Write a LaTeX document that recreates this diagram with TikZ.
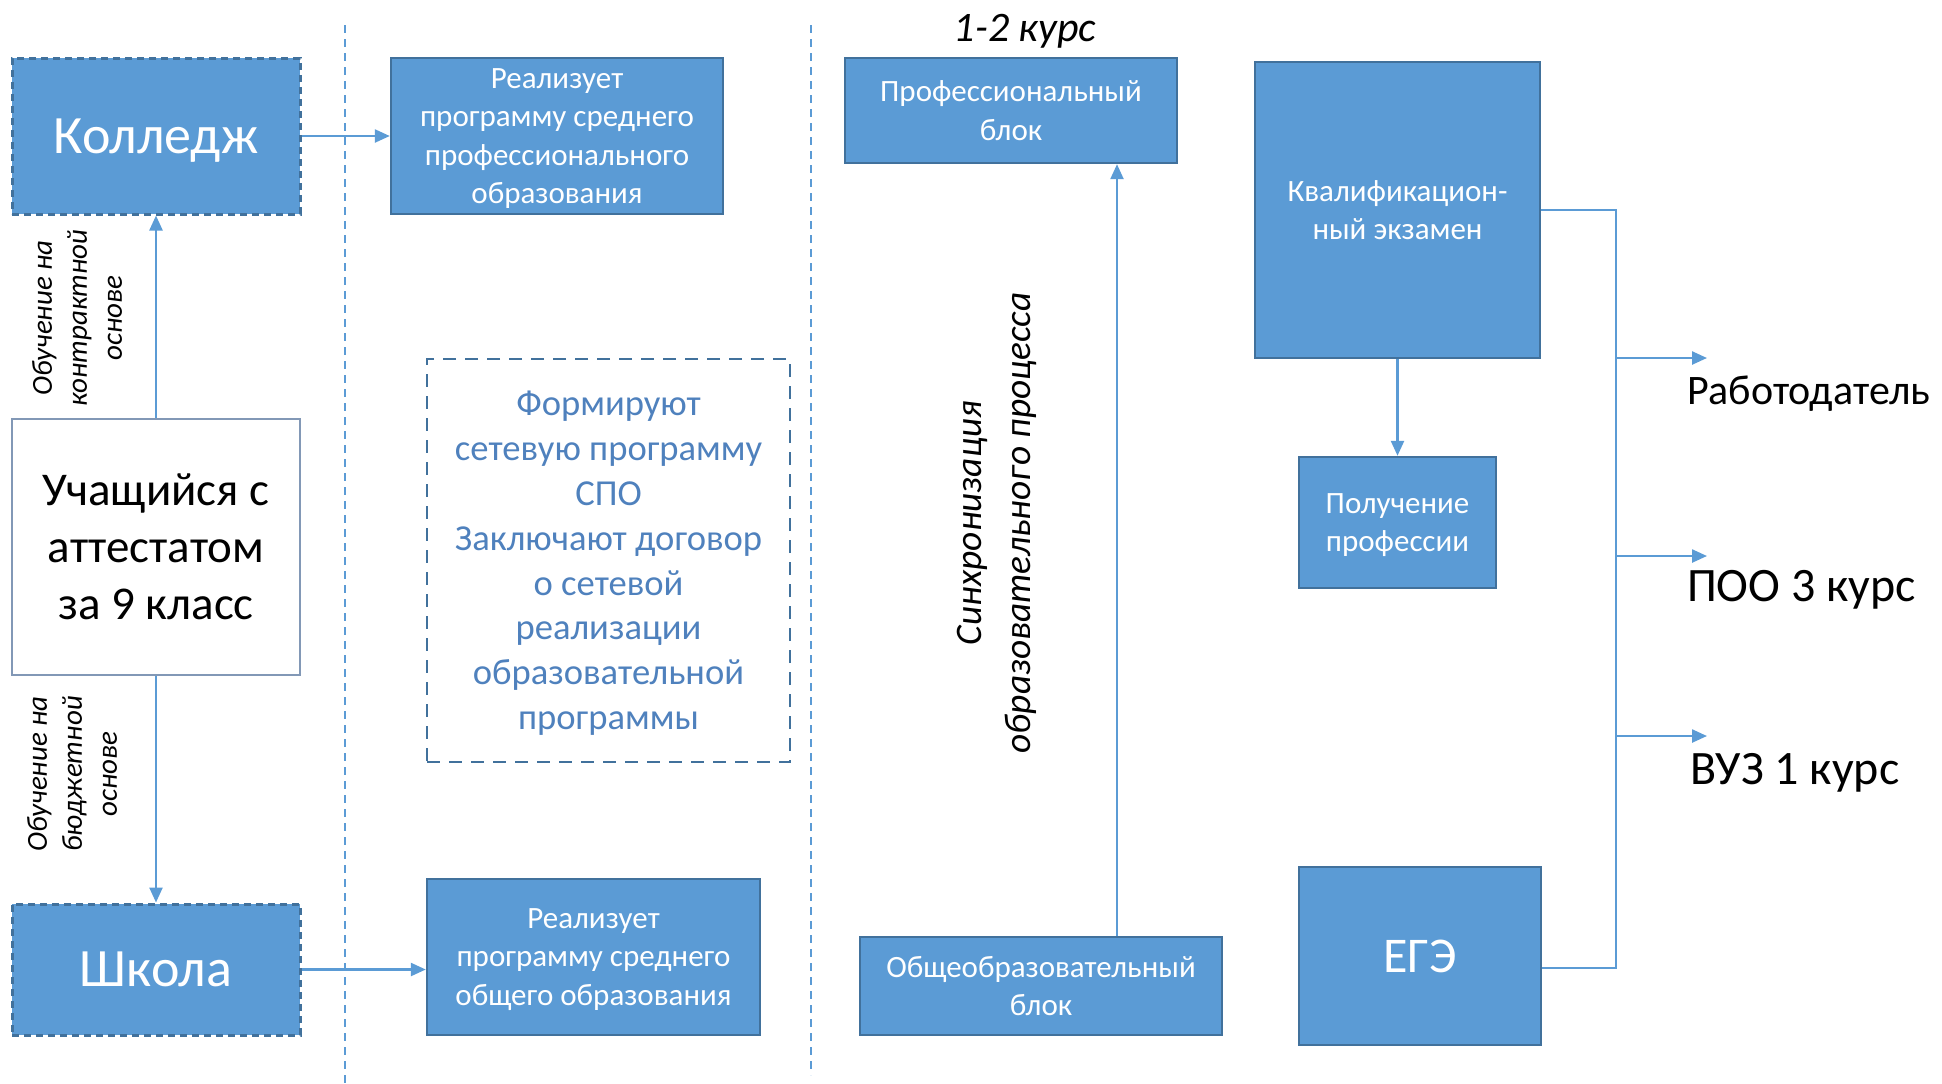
\documentclass[tikz,border=0pt]{standalone}
\usepackage{fontspec}
\setmainfont{Carlito}
\usepackage{tikz}
\usetikzlibrary{arrows.meta}
\usetikzlibrary{positioning}
\definecolor{boxfill}{HTML}{5B9BD5}
\definecolor{boxline}{HTML}{41719C}
\definecolor{wireblue}{HTML}{5B9BD5}
\definecolor{notetext}{HTML}{4F81BD}
\definecolor{pupilline}{HTML}{8298B6}
\tikzset{%
  conn/.style={->, draw=wireblue, line width=1.2pt, >={Triangle[length=7.5pt,width=6.5pt]}},
  wire/.style={draw=wireblue, line width=1.2pt},
  bluebox/.style={rectangle, fill=boxfill, draw=boxline, line width=1.2pt, text=white, align=center, inner sep=0pt,
    text depth=0pt, font=\fontsize{15.5}{19.2}\selectfont},
  orgbox/.style={bluebox, dash pattern=on 3.5pt off 2.5pt, line width=1.5pt, font=\fontsize{27}{32}\selectfont},
  pupilbox/.style={rectangle, draw=pupilline, line width=1.3pt, align=center, inner sep=0pt,
    font=\fontsize{23.5}{28.5}\selectfont},
  notebox/.style={rectangle, draw=boxline, line width=1.2pt, dash pattern=on 6.5pt off 4.5pt, text=notetext,
    align=center, inner sep=0pt, text depth=0pt, font=\fontsize{18.3}{22.4}\selectfont},
  divider/.style={draw=wireblue, line width=1pt, dash pattern=on 4pt off 3pt},
  sidenote/.style={rotate=90, align=center, font=\fontsize{14.5}{17.5}\selectfont\itshape},
  outlabel/.style={anchor=west, font=\fontsize{24}{29}\selectfont}
}
\begin{document}
\begin{tikzpicture}[x=0.5pt, y=-0.5pt]
  \useasboundingbox (0,0) rectangle (1942,1083);
  % dividers
  \draw[divider] (345,25) -- (345,1083);
  \draw[divider] (811,25) -- (811,1075);
  % left column
  \node[orgbox, minimum width=144pt, minimum height=78pt] (college) at (156,136) {Колледж};
  \node[pupilbox, minimum width=144pt, minimum height=128pt] (pupil) at (156,547) {Учащийся с\\аттестатом\\за 9 класс};
  \node[orgbox, minimum width=144pt, minimum height=65.5pt] (school) at (156,969.5) {Школа};
  \node[sidenote] (contract) at (77,318) {Обучение на\\контрактной\\основе};
  \node[sidenote] (budget) at (72,774) {Обучение на\\бюджетной\\основе};
  % programmes
  \node[bluebox, minimum width=166pt, minimum height=78pt] (spo) at (557,136) {Реализует\\программу среднего\\профессионального\\образования};
  \node[notebox, minimum width=181.5pt, minimum height=201.5pt] (net) at (608.5,560.5) {Формируют\\сетевую программу\\СПО\\Заключают договор\\о сетевой\\реализации\\образовательной\\программы};
  \node[bluebox, minimum width=166.5pt, minimum height=78pt] (soo) at (593.5,957) {Реализует\\программу среднего\\общего образования};
  % blocks
  \node[font=\fontsize{21}{25}\selectfont\itshape] (years) at (1025,31) {1-2 курс};
  \node[bluebox, minimum width=166pt, minimum height=52.5pt] (profblock) at (1011,110.5) {Профессиональный\\блок};
  \node[bluebox, minimum width=181pt, minimum height=49pt] (genblock) at (1041,986) {Общеобразовательный\\блок};
  \node[rotate=90, align=center, font=\fontsize{18.7}{24.5}\selectfont\itshape] (sync) at (997,523) {Синхронизация\\образовательного процесса};
  % exams
  \node[bluebox, minimum width=142.5pt, minimum height=148pt] (qual) at (1397.5,210) {Квалификацион-\\ный экзамен};
  \node[bluebox, minimum width=98.5pt, minimum height=65.5pt] (getprof) at (1397.5,522.5) {Получение\\профессии};
  \node[bluebox, minimum width=121pt, minimum height=89pt, font=\fontsize{25}{30}\selectfont] (ege) at (1420,956) {ЕГЭ};
  % outcomes
  \coordinate (syncx) at (1117,0);
  \coordinate (busbot) at (1616,968);
  \coordinate (toemp) at (1707,358);
  \coordinate (topoo) at (1707,556);
  \coordinate (tovuz) at (1707,736);
  \node[outlabel, font=\fontsize{21}{25}\selectfont] (emp) at (1680,394) {Работодатель};
  \node[outlabel] (poo) at (1680,590) {ПОО 3 курс};
  \node[outlabel] (vuz) at (1683,773) {ВУЗ 1 курс};
  % connectors
  \draw[conn] (college.east) -- (spo.west);
  \draw[conn] (pupil.north) -- (college.south);
  \draw[conn] (pupil.south) -- (school.north);
  \draw[conn] (school.east) -- (school.east -| soo.west);
  \draw[conn] (genblock.north -| syncx) -- (profblock.south -| syncx);
  \draw[conn] (qual.south) -- (getprof.north);
  \draw[wire] (qual.east) -| (busbot) -- (busbot -| ege.east);
  \draw[conn] (toemp -| busbot) -- (toemp);
  \draw[conn] (topoo -| busbot) -- (topoo);
  \draw[conn] (tovuz -| busbot) -- (tovuz);
\end{tikzpicture}
\end{document}
